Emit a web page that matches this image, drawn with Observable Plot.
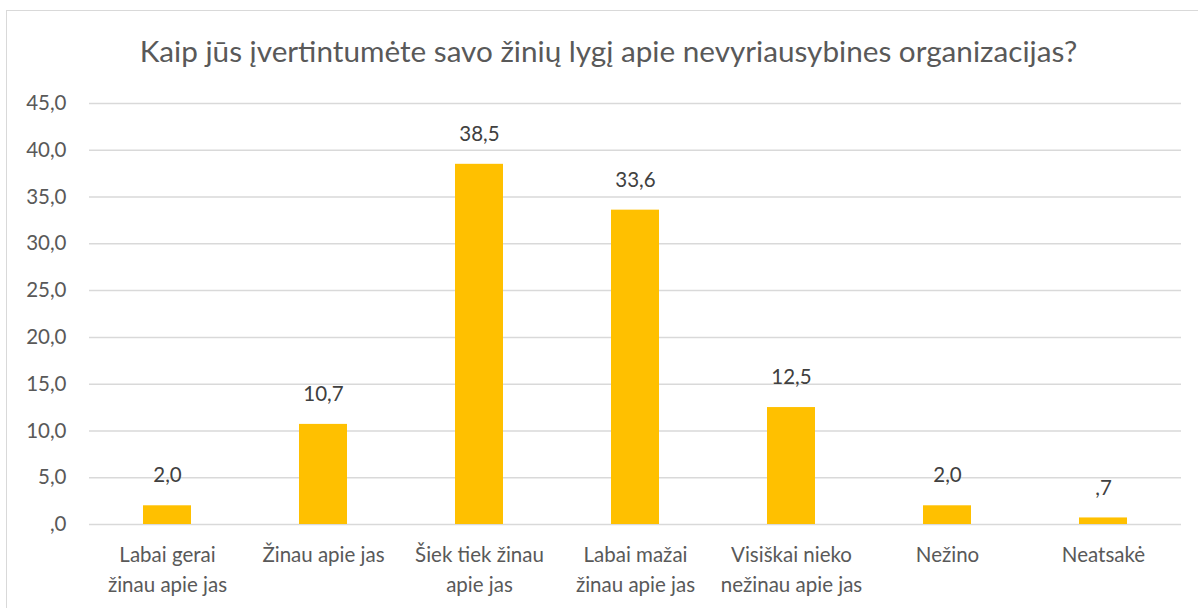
<!DOCTYPE html>
<html>
<head>
<meta charset="utf-8">
<script src="https://cdn.jsdelivr.net/npm/d3@7"></script>
<script src="https://cdn.jsdelivr.net/npm/@observablehq/plot@0.6"></script>
<style>
  html, body { margin: 0; padding: 0; background: #fff; overflow: hidden; }
  #frame { position: absolute; left: 6px; top: 10px; width: 1300px; height: 700px; border: 1px solid #d9d9d9; box-sizing: border-box; }
  #title { position: absolute; left: 0; top: 33px; width: 1217px; text-align: center; font-family: Lato, sans-serif; font-size: 29.7px; line-height: 36px; color: #595959; white-space: nowrap; }
  #chart { position: absolute; left: 0; top: 80px; }
</style>
</head>
<body>
<div id="frame"></div>
<div id="title">Kaip jūs įvertintumėte savo žinių lygį apie nevyriausybines organizacijas?</div>
<div id="chart"></div>
<script>
const categories = ["Labai gerai\nžinau apie jas", "Žinau apie jas", "Šiek tiek žinau\napie jas", "Labai mažai\nžinau apie jas", "Visiškai nieko\nnežinau apie jas", "Nežino", "Neatsakė"];
const values = [2.0, 10.7, 38.5, 33.6, 12.5, 2.0, 0.7];
const yTicks = [0, 5, 10, 15, 20, 25, 30, 35, 40, 45];

const data = categories.map((c, i) => ({category: c, value: values[i]}));
const fmt = d => d.toFixed(1).replace(".", ",").replace(/^0,/, ",");

const plot = Plot.plot({
  width: 1198,
  height: 528,
  marginLeft: 89,
  marginRight: 17,
  marginTop: 23,
  marginBottom: 84,
  style: {fontFamily: "Lato, sans-serif", fontSize: "20.5px", color: "#595959", background: "transparent"},
  x: {domain: categories, paddingInner: 0.69, paddingOuter: 0.34, label: null},
  y: {domain: [0, 45], label: null},
  marks: [
    Plot.gridY(yTicks, {stroke: "#d9d9d9", strokeOpacity: 1, strokeWidth: 1.5}),
    Plot.axisY(yTicks, {tickSize: 0, tickPadding: 23, tickFormat: fmt, fontSize: 20.5, fill: "#595959", label: null}),
    Plot.axisX({tickSize: 0, tickPadding: 16, fontSize: 20.5, fill: "#595959", label: null, lineHeight: 1.48, textAnchor: "middle"}),
    Plot.barY(data, {x: "category", y: "value", fill: "#FFC000"}),
    Plot.text(data, {x: "category", y: "value", text: d => fmt(d.value), dy: -30, fontSize: 20.5, fill: "#404040"})
  ]
});
document.getElementById("chart").appendChild(plot);
</script>
</body>
</html>
